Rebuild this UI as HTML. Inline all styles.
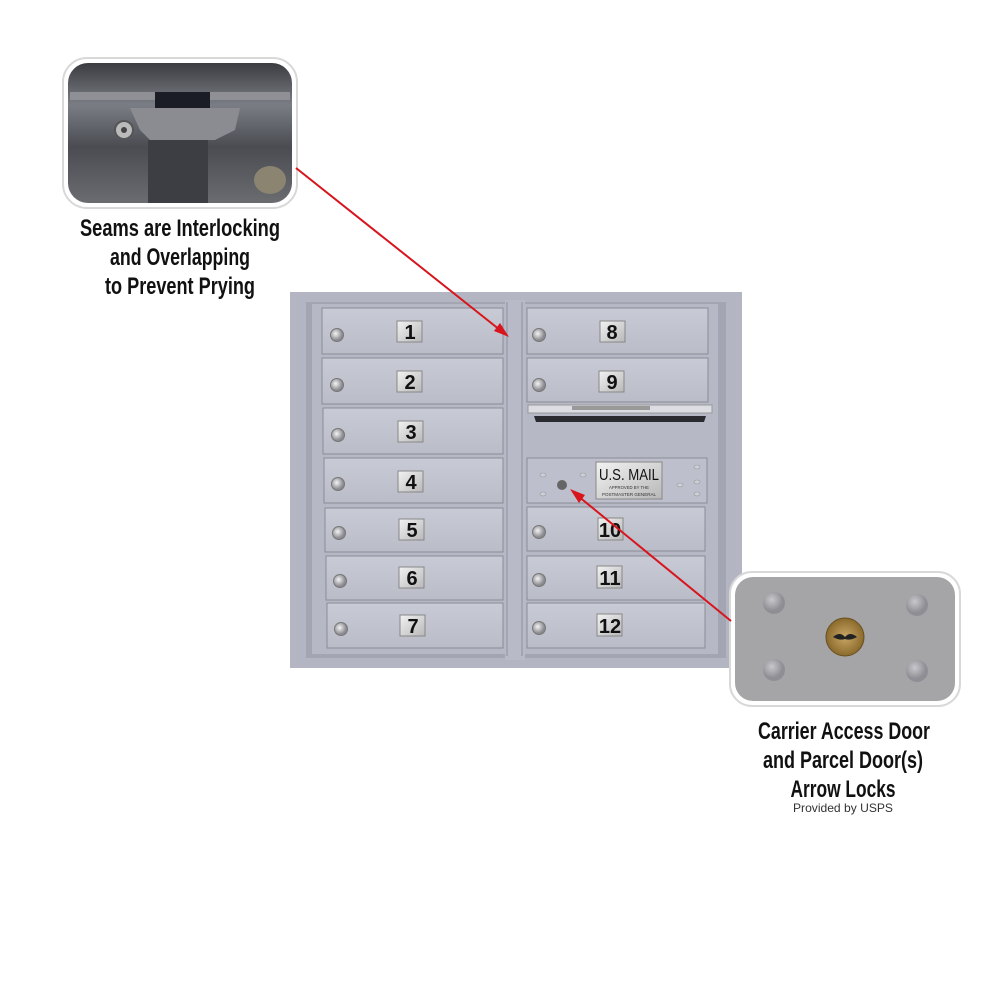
<!DOCTYPE html>
<html><head><meta charset="utf-8"><style>
html,body{margin:0;padding:0;background:#fff;width:1000px;height:1000px;overflow:hidden}
svg{display:block}
.t{font-family:"Liberation Sans Narrow","Liberation Sans",sans-serif;fill:#111;font-size:24px;font-weight:bold}
.n{font-family:"Liberation Sans Narrow","Liberation Sans",sans-serif;font-size:20px;fill:#111;font-weight:bold}
</style></head><body>
<svg width="1000" height="1000" viewBox="0 0 1000 1000" xmlns="http://www.w3.org/2000/svg">
<defs>
<linearGradient id="door" x1="0" y1="0" x2="0" y2="1"><stop offset="0" stop-color="#c8cad5"/><stop offset="1" stop-color="#babcc8"/></linearGradient>
<linearGradient id="plate" x1="0" y1="0" x2="1" y2="1"><stop offset="0" stop-color="#f2f2f2"/><stop offset="1" stop-color="#b8b8b8"/></linearGradient>
<linearGradient id="ins1" x1="0" y1="0" x2="0" y2="1"><stop offset="0" stop-color="#3a3c40"/><stop offset="0.3" stop-color="#7a7d84"/><stop offset="0.6" stop-color="#4a4c52"/><stop offset="1" stop-color="#6a6c70"/></linearGradient>
<radialGradient id="brass"><stop offset="0" stop-color="#c9a765"/><stop offset="1" stop-color="#8a6a2c"/></radialGradient>
<radialGradient id="bump" cx="0.4" cy="0.35"><stop offset="0" stop-color="#c8c8cc"/><stop offset="1" stop-color="#8e8e94"/></radialGradient>
<radialGradient id="lock" cx="0.4" cy="0.4"><stop offset="0" stop-color="#f4f4f4"/><stop offset="1" stop-color="#8a8a90"/></radialGradient>
</defs>

<rect x="290" y="292" width="452" height="376" fill="#b3b6c2"/>
<rect x="306" y="302" width="420" height="356" fill="#a3a6b2"/>
<rect x="312" y="304" width="406" height="350" fill="#b6b9c5"/>
<rect x="505" y="300" width="20" height="360" fill="#b8bbc7"/>
<line x1="507" y1="302" x2="507" y2="656" stroke="#8e919c"/>
<line x1="522" y1="302" x2="522" y2="656" stroke="#8e919c"/>

<g>
<rect x="322" y="308" width="181" height="46" fill="url(#door)" stroke="#8a8d98"/>
<rect x="322" y="358" width="181" height="46" fill="url(#door)" stroke="#8a8d98"/>
<rect x="323" y="408" width="180" height="46" fill="url(#door)" stroke="#8a8d98"/>
<rect x="324" y="458" width="179" height="45" fill="url(#door)" stroke="#8a8d98"/>
<rect x="325" y="508" width="178" height="44" fill="url(#door)" stroke="#8a8d98"/>
<rect x="326" y="556" width="177" height="44" fill="url(#door)" stroke="#8a8d98"/>
<rect x="327" y="603" width="176" height="45" fill="url(#door)" stroke="#8a8d98"/>
</g>
<g fill="url(#lock)" stroke="#777" stroke-width="1">
<circle cx="337" cy="335" r="6.5"/><circle cx="337" cy="385" r="6.5"/><circle cx="338" cy="435" r="6.5"/><circle cx="338" cy="484" r="6.5"/><circle cx="339" cy="533" r="6.5"/><circle cx="340" cy="581" r="6.5"/><circle cx="341" cy="629" r="6.5"/>
</g>
<g fill="url(#plate)" stroke="#888">
<rect x="397" y="321" width="25" height="21"/><rect x="397" y="371" width="25" height="21"/><rect x="398" y="421" width="25" height="21"/><rect x="398" y="471" width="25" height="21"/><rect x="399" y="519" width="25" height="21"/><rect x="399" y="567" width="25" height="21"/><rect x="400" y="615" width="25" height="21"/>
</g>
<g class="n" text-anchor="middle">
<text x="410" y="339">1</text><text x="410" y="389">2</text><text x="411" y="439">3</text><text x="411" y="489">4</text><text x="412" y="537">5</text><text x="412" y="585">6</text><text x="413" y="633">7</text>
</g>

<rect x="527" y="308" width="181" height="46" fill="url(#door)" stroke="#8a8d98"/>
<rect x="527" y="358" width="181" height="44" fill="url(#door)" stroke="#8a8d98"/>
<rect x="528" y="405" width="184" height="8" fill="#dcdde2" stroke="#999"/>
<rect x="572" y="406" width="78" height="4" fill="#999"/>
<polygon points="534,416 706,416 704,422 536,422" fill="#2a2b30"/>
<rect x="527" y="458" width="180" height="45" fill="#bdc0cc" stroke="#8a8d98"/>
<rect x="527" y="507" width="178" height="44" fill="url(#door)" stroke="#8a8d98"/>
<rect x="527" y="556" width="178" height="44" fill="url(#door)" stroke="#8a8d98"/>
<rect x="527" y="603" width="178" height="45" fill="url(#door)" stroke="#8a8d98"/>
<g fill="url(#lock)" stroke="#777">
<circle cx="539" cy="335" r="6.5"/><circle cx="539" cy="385" r="6.5"/><circle cx="539" cy="532" r="6.5"/><circle cx="539" cy="580" r="6.5"/><circle cx="539" cy="628" r="6.5"/>
</g>
<circle cx="562" cy="485" r="5" fill="#666"/>
<g fill="url(#plate)" stroke="#888">
<rect x="600" y="321" width="25" height="21"/><rect x="599" y="371" width="25" height="21"/><rect x="598" y="518" width="25" height="22"/><rect x="597" y="566" width="25" height="22"/><rect x="597" y="614" width="25" height="22"/>
<rect x="596" y="462" width="66" height="37"/>
</g>
<g class="n" text-anchor="middle">
<text x="612" y="339">8</text><text x="612" y="389">9</text><text x="610" y="537">10</text><text x="610" y="585">11</text><text x="610" y="633">12</text>
</g>
<text x="629" y="480" font-family="Liberation Sans Narrow,Liberation Sans,sans-serif" font-size="16" text-anchor="middle" fill="#111" textLength="60" lengthAdjust="spacingAndGlyphs">U.S. MAIL</text>
<text x="629" y="489" font-family="Liberation Sans,sans-serif" font-size="4.5" text-anchor="middle" fill="#333" textLength="40" lengthAdjust="spacingAndGlyphs">APPROVED BY THE</text>
<text x="629" y="496" font-family="Liberation Sans,sans-serif" font-size="4.5" text-anchor="middle" fill="#333" textLength="54" lengthAdjust="spacingAndGlyphs">POSTMASTER GENERAL</text>
<g fill="#ccced8" stroke="#999" stroke-width="0.6">
<ellipse cx="543" cy="475" rx="3" ry="2"/><ellipse cx="583" cy="475" rx="3" ry="2"/><ellipse cx="543" cy="494" rx="3" ry="2"/><ellipse cx="680" cy="485" rx="3" ry="2"/><ellipse cx="697" cy="467" rx="3" ry="2"/><ellipse cx="697" cy="482" rx="3" ry="2"/><ellipse cx="697" cy="494" rx="3" ry="2"/>
</g>

<rect x="63" y="58" width="234" height="150" rx="24" fill="#fff" stroke="#d8d8d8" stroke-width="2"/>
<rect x="68" y="63" width="224" height="140" rx="20" fill="url(#ins1)"/>
<path d="M70 92 L290 92 L290 100 L70 100Z" fill="#8e9096"/>
<rect x="155" y="92" width="55" height="40" fill="#1a1c26"/>
<path d="M130 108 L240 108 L235 130 L215 140 L150 140 L140 130Z" fill="#8a8c92"/>
<rect x="148" y="140" width="60" height="63" fill="#3c3e44"/>
<circle cx="124" cy="130" r="9" fill="#bbb" stroke="#555" stroke-width="2"/><circle cx="124" cy="130" r="3" fill="#444"/>
<ellipse cx="270" cy="180" rx="16" ry="14" fill="#8a8470"/>

<rect x="730" y="572" width="230" height="134" rx="22" fill="#fff" stroke="#d8d8d8" stroke-width="2"/>
<rect x="735" y="577" width="220" height="124" rx="18" fill="#a5a5a8"/>
<circle cx="774" cy="603" r="11" fill="url(#bump)"/><circle cx="917" cy="605" r="11" fill="url(#bump)"/>
<circle cx="774" cy="670" r="11" fill="url(#bump)"/><circle cx="917" cy="671" r="11" fill="url(#bump)"/>
<circle cx="845" cy="637" r="19" fill="url(#brass)" stroke="#6a5020"/>
<path d="M833 637 Q840 631 845 637 Q850 631 857 637 Q850 641 845 639 Q840 641 833 637Z" fill="#222"/>

<g stroke="#d8141c" stroke-width="2" fill="#d8141c">
<line x1="296" y1="168" x2="500" y2="330"/>
<polygon points="509,337 494,331 500,323" stroke="none"/>
<line x1="731" y1="621" x2="578" y2="496"/>
<polygon points="570,489 585,495 579,503" stroke="none"/>
</g>

<g class="t" text-anchor="middle">
<text x="180" y="236" textLength="200" lengthAdjust="spacingAndGlyphs">Seams are Interlocking</text>
<text x="180" y="265" textLength="140" lengthAdjust="spacingAndGlyphs">and Overlapping</text>
<text x="180" y="294" textLength="150" lengthAdjust="spacingAndGlyphs">to Prevent Prying</text>
<text x="844" y="739" textLength="172" lengthAdjust="spacingAndGlyphs">Carrier Access Door</text>
<text x="843" y="768" textLength="160" lengthAdjust="spacingAndGlyphs">and Parcel Door(s)</text>
<text x="843" y="797" textLength="105" lengthAdjust="spacingAndGlyphs">Arrow Locks</text>
</g>
<text x="843" y="812" text-anchor="middle" font-family="Liberation Sans,sans-serif" font-size="12" fill="#333" textLength="100" lengthAdjust="spacingAndGlyphs">Provided by USPS</text>
</svg>
</body></html>
